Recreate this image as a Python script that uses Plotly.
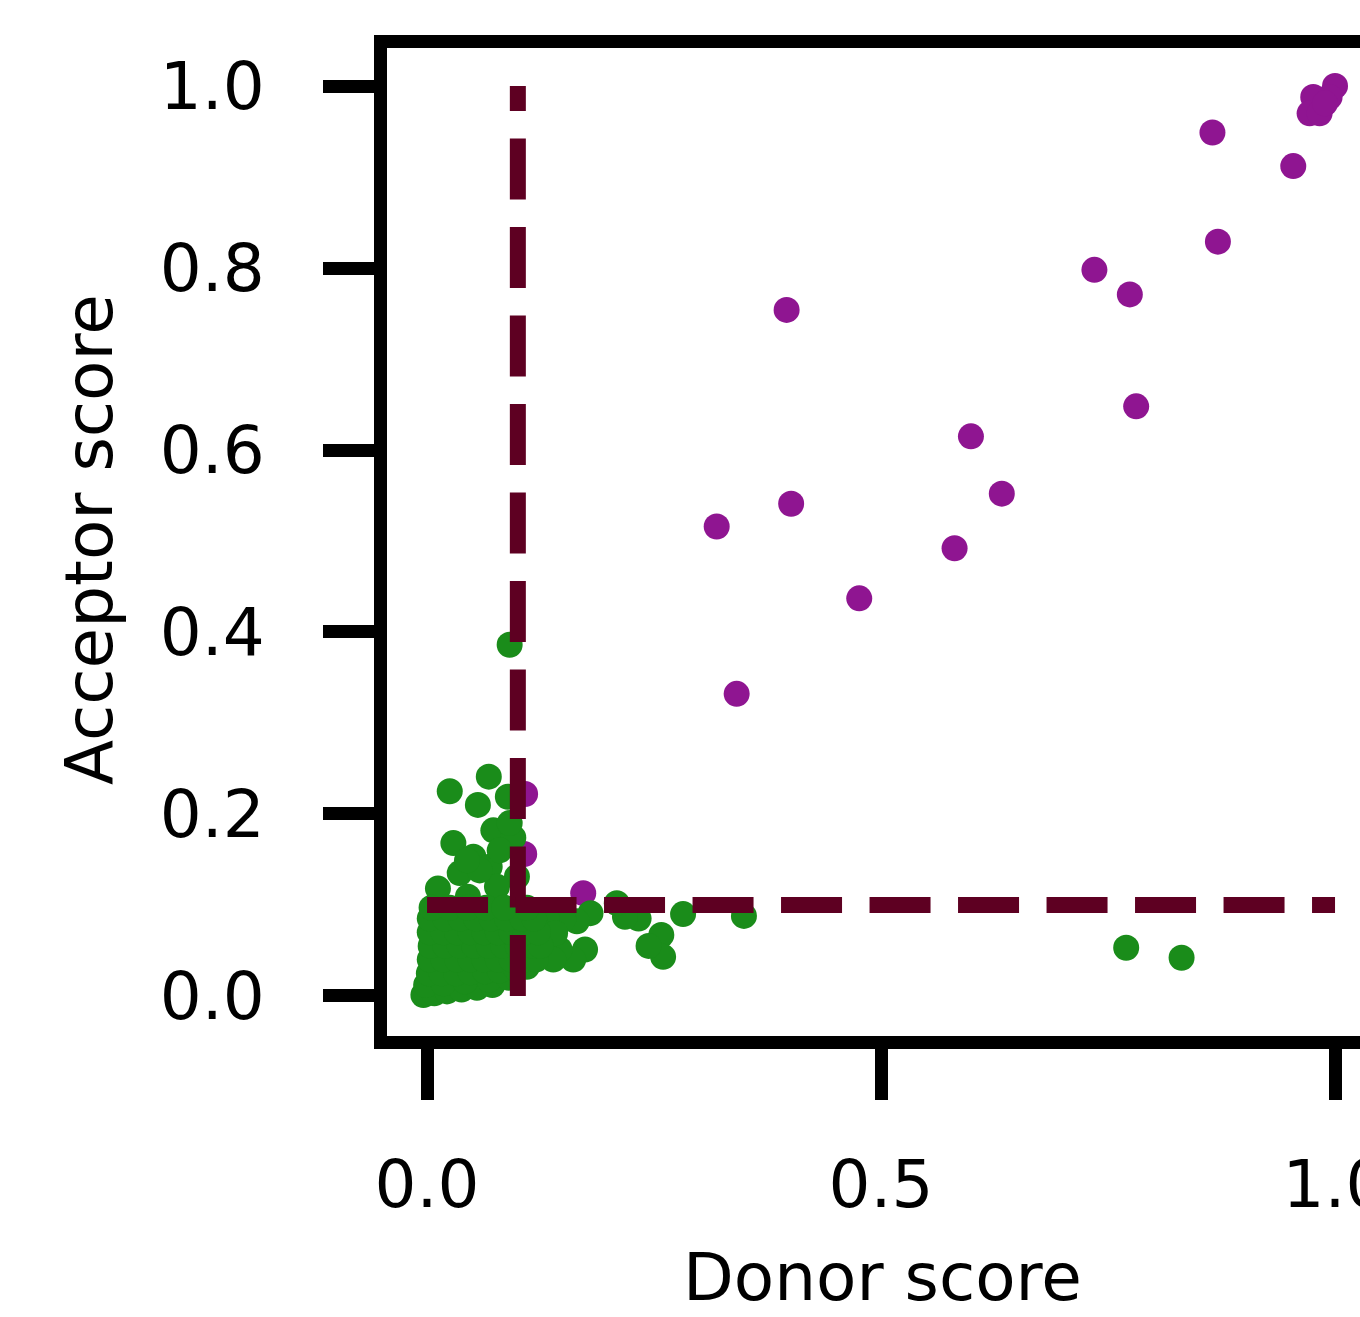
import plotly.graph_objects as go

# Splice-site scores: donor (x) vs acceptor (y)
# Sites passing both thresholds
pass_donor = [1.000, 0.994, 0.976, 0.972, 0.983, 0.989, 0.865, 0.954, 0.871,
              0.735, 0.774, 0.781, 0.599, 0.633, 0.581, 0.476, 0.396, 0.401,
              0.319, 0.341, 0.108, 0.107, 0.172]
pass_acceptor = [1.000, 0.988, 0.988, 0.970, 0.970, 0.981, 0.949, 0.912, 0.829,
                 0.798, 0.771, 0.648, 0.615, 0.552, 0.492, 0.437, 0.754, 0.541,
                 0.516, 0.332, 0.222, 0.156, 0.113]

# Sites failing at least one threshold
fail_donor = [
    0.091, 0.770, 0.831, 0.349, 0.282, 0.258, 0.260, 0.244, 0.233, 0.218,
    0.209, 0.180, 0.165, 0.174, 0.161, 0.146, 0.150, 0.132, 0.141, 0.139,
    0.068, 0.025, 0.056, 0.089, 0.073, 0.029, 0.095, 0.051, 0.036, 0.069,
    0.099, 0.012, 0.045, 0.077, 0.080, 0.058, 0.091, 0.044,
    -0.004, 0.008, 0.022, 0.038, 0.055, 0.072,
    -0.001, 0.018, 0.042, 0.068, 0.090,
    0.002, 0.016, 0.032, 0.048, 0.064, 0.080, 0.098, 0.110,
    0.003, 0.018, 0.033, 0.048, 0.063, 0.078, 0.093, 0.108, 0.120,
    0.004, 0.020, 0.036, 0.052, 0.068, 0.084, 0.100, 0.116, 0.125,
    0.003, 0.018, 0.033, 0.048, 0.063, 0.078, 0.093, 0.108, 0.122,
    0.003, 0.020, 0.037, 0.054, 0.071, 0.088, 0.105, 0.118,
    0.005, 0.025, 0.045, 0.065, 0.085, 0.110,
]
fail_acceptor = [
    0.386, 0.053, 0.042, 0.088, 0.090, 0.067, 0.043, 0.055, 0.085, 0.087,
    0.102, 0.091, 0.082, 0.051, 0.040, 0.051, 0.084, 0.084, 0.069, 0.040,
    0.241, 0.225, 0.210, 0.219, 0.182, 0.168, 0.174, 0.153, 0.135, 0.142,
    0.131, 0.118, 0.109, 0.120, 0.160, 0.138, 0.190, 0.149,
    0.001, 0.003, 0.005, 0.007, 0.009, 0.012,
    0.012, 0.014, 0.016, 0.018, 0.020,
    0.025, 0.025, 0.025, 0.026, 0.027, 0.028, 0.030, 0.032,
    0.040, 0.040, 0.040, 0.040, 0.040, 0.040, 0.040, 0.040, 0.040,
    0.055, 0.055, 0.055, 0.055, 0.055, 0.055, 0.055, 0.055, 0.055,
    0.070, 0.070, 0.070, 0.070, 0.070, 0.070, 0.070, 0.070, 0.070,
    0.085, 0.085, 0.085, 0.085, 0.085, 0.085, 0.085, 0.085,
    0.097, 0.097, 0.097, 0.097, 0.097, 0.097,
]

THRESHOLD = 0.1
LINE_START, LINE_END = 0.0, 1.0

X_TICKS = [0.0, 0.5, 1.0]
Y_TICKS = [0.0, 0.2, 0.4, 0.6, 0.8, 1.0]

PURPLE = "#8f1591"
GREEN = "#1a8c1a"
MAROON = "#5e0022"
FONT = "DejaVu Sans"

fig = go.Figure()

fig.add_trace(go.Scatter(
    x=pass_donor, y=pass_acceptor, mode="markers",
    marker=dict(size=26, color=PURPLE, line=dict(width=0)),
    showlegend=False, hoverinfo="skip",
))
fig.add_trace(go.Scatter(
    x=fail_donor, y=fail_acceptor, mode="markers",
    marker=dict(size=26, color=GREEN, line=dict(width=0)),
    showlegend=False, hoverinfo="skip",
))

# threshold guides, drawn over the points
dash = "61px,27.5px"
fig.add_trace(go.Scatter(
    x=[THRESHOLD, THRESHOLD], y=[LINE_START, LINE_END], mode="lines",
    line=dict(color=MAROON, width=16, dash=dash),
    showlegend=False, hoverinfo="skip", cliponaxis=False,
))
fig.add_trace(go.Scatter(
    x=[LINE_START, LINE_END], y=[THRESHOLD, THRESHOLD], mode="lines",
    line=dict(color=MAROON, width=16, dash=dash),
    showlegend=False, hoverinfo="skip", cliponaxis=False,
))

axis_common = dict(
    showgrid=False, zeroline=False, showline=True, linecolor="black",
    linewidth=13, ticks="outside", ticklen=51, tickwidth=13,
    tickcolor="black", tickfont=dict(family=FONT, size=66, color="black"),
    ticklabeloverflow="allow", automargin=False,
)

fig.update_xaxes(
    range=[-0.0441, 1.0275], tickvals=X_TICKS, tickformat=".1f",
    mirror=True, ticklabelstandoff=28, **axis_common,
)
fig.update_yaxes(
    range=[-0.0440, 1.0418], tickvals=Y_TICKS, tickformat=".1f",
    mirror=False, ticklabelstandoff=45, **axis_common,
)

fig.add_annotation(
    text="Donor score", xref="paper", yref="paper",
    x=(882.5 - 387) / 973, y=(1036 - 1277) / 988,
    xanchor="center", yanchor="middle", showarrow=False,
    font=dict(family=FONT, size=66, color="black"),
)
fig.add_annotation(
    text="Acceptor score", xref="paper", yref="paper",
    x=(89 - 387) / 973, y=(1036 - 540) / 988,
    xanchor="center", yanchor="middle", showarrow=False, textangle=-90,
    font=dict(family=FONT, size=66, color="black"),
)

fig.update_layout(
    width=1360, height=1317,
    margin=dict(l=387, r=0, t=48, b=281, pad=0, autoexpand=False),
    paper_bgcolor="white", plot_bgcolor="white",
    font=dict(family=FONT, color="black"),
)

fig.write_html("out.html")
